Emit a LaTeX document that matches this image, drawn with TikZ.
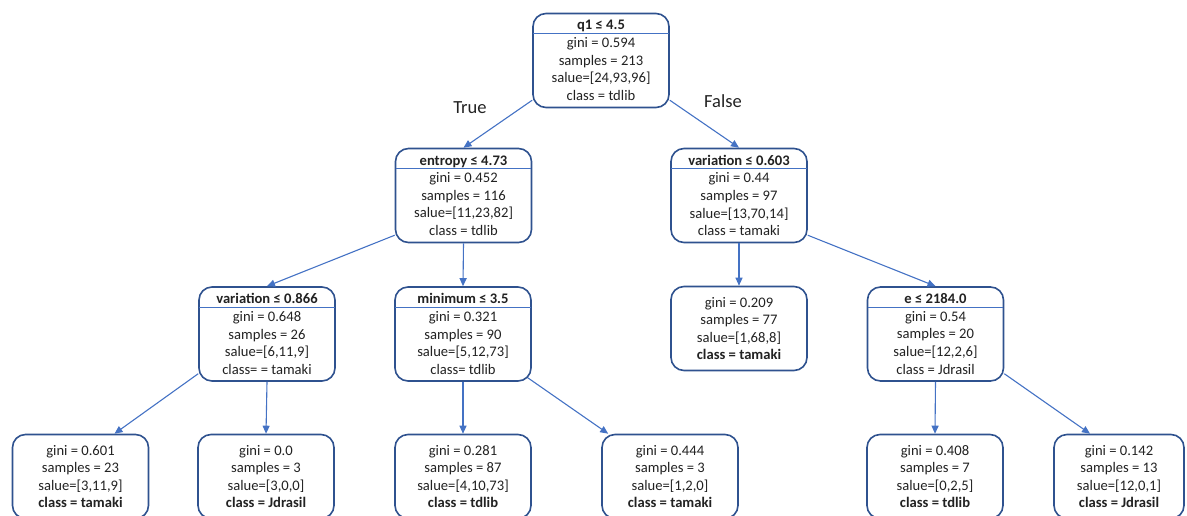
\documentclass[tikz,border=0pt]{standalone}
\usepackage{fontspec}
\setmainfont{Carlito}
\usepackage{xcolor}
\usepackage{tikz}
\usetikzlibrary{calc,arrows.meta}
\definecolor{boxline}{HTML}{2F528F}
\definecolor{edgeline}{HTML}{4472C4}
\definecolor{ink}{HTML}{222222}
\tikzset{
  tnode/.style={draw=boxline, line width=1.6pt, rounded corners=13pt, fill=white,
    text=ink, align=center, minimum width=136pt, minimum height=94pt, inner sep=0pt,
    font=\fontsize{14.6}{17.6}\selectfont},
  leaf/.style={tnode, minimum height=84pt},
  sep/.style={draw=edgeline, line width=0.9pt, shorten <=1pt, shorten >=1pt},
  arr/.style={-{Triangle[length=8pt,width=7pt]}, draw=edgeline, line width=1.1pt},
  lab/.style={text=ink, font=\fontsize{18.5}{22}\selectfont}
}
\begin{document}
\begin{tikzpicture}[x=1pt,y=-1pt]
  \clip (0,0) rectangle (1187,515);

  % split nodes
  \node[tnode] (R) at (601,60.5) {\textbf{q1 ≤ 4.5}\\gini = 0.594\\samples = 213\\salue=[24,93,96]\\class = tdlib};
  \node[tnode] (En) at (463.5,195.5) {\textbf{entropy ≤ 4.73}\\gini = 0.452\\samples = 116\\salue=[11,23,82]\\class = tdlib};
  \node[tnode] (Vr) at (739,195.5) {\textbf{variation ≤ 0.603}\\gini = 0.44\\samples = 97\\salue=[13,70,14]\\class = tamaki};
  \node[tnode] (Vl) at (267,334) {\textbf{variation ≤ 0.866}\\gini = 0.648\\samples = 26\\salue=[6,11,9]\\class= = tamaki};
  \node[tnode] (Mi) at (463,334) {\textbf{minimum ≤ 3.5}\\gini = 0.321\\samples = 90\\salue=[5,12,73]\\class= tdlib};
  \node[tnode] (E) at (935.5,334) {\textbf{e ≤ 2184.0}\\gini = 0.54\\samples = 20\\salue=[12,2,6]\\class = Jdrasil};

  % header lines
  \foreach \n in {R,En,Vr,Vl,Mi,E}{
    \draw[sep] ($(\n.north west)+(0,21)$) -- ($(\n.north east)+(0,21)$);
  }

  % leaves
  \node[leaf] (L1) at (739,328.5) {gini = 0.209\\samples = 77\\salue=[1,68,8]\\\textbf{class = tamaki}};
  \node[leaf] (L2) at (80.5,476.5) {gini = 0.601\\samples = 23\\salue=[3,11,9]\\\textbf{class = tamaki}};
  \node[leaf] (L3) at (266,476.5) {gini = 0.0\\samples = 3\\salue=[3,0,0]\\\textbf{class = Jdrasil}};
  \node[leaf] (L4) at (463,476.5) {gini = 0.281\\samples = 87\\salue=[4,10,73]\\\textbf{class = tdlib}};
  \node[leaf] (L5) at (670,476.5) {gini = 0.444\\samples = 3\\salue=[1,2,0]\\\textbf{class = tamaki}};
  \node[leaf] (L6) at (935,476.5) {gini = 0.408\\samples = 7\\salue=[0,2,5]\\\textbf{class = tdlib}};
  \node[leaf, minimum width=130pt] (L7) at (1119,476.5) {gini = 0.142\\samples = 13\\salue=[12,0,1]\\\textbf{class = Jdrasil}};

  % edges
  \foreach \a/\b in {En/Mi,Vr/L1,Vl/L3,Mi/L4,E/L6}{
    \draw[arr] (\a.south) -- (\b.north);
  }
  \draw[arr] (R.210) -- (En.north);
  \draw[arr] (R.330) -- (Vr.north);
  \draw[arr] (En.210) -- (Vl.north);
  \draw[arr] (Vr.330) -- (E.north);
  \draw[arr] (Vl.210) -- ($(L2.north)+(34,0)$);
  \draw[arr] ($(Mi.south east)+(-4,-4)$) -- ($(L5.north west)+(7,0)$);
  \draw[arr] (E.330) -- ($(L7.north)+(-29,0)$);

  % branch labels
  \node[lab] (T) at (470,108) {True};
  \node[lab] (F) at (723,101) {False};
\end{tikzpicture}
\end{document}
